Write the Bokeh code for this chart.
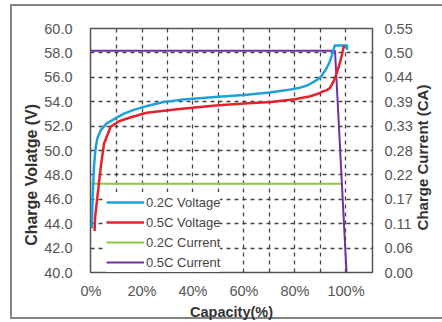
import math
from bokeh.plotting import figure
from bokeh.models import (Range1d, LinearAxis, FixedTicker, PrintfTickFormatter,
                          CustomJSTickFormatter, Legend, LegendItem)
from bokeh.embed import file_html
from bokeh.resources import INLINE

# ---------------- data ----------------
# 0.2C charge voltage (capacity %, V)
cap_02v = [0.3, 0.7, 1.2, 1.8, 2.5, 3.8, 6.0, 8.9, 12.7, 17, 22, 28, 35, 50, 60, 70, 77, 82, 85,
           88, 90, 92, 93.5, 94.8, 95.6, 100.4, 100.4]
volt_02 = [43.6, 46.5, 48.8, 50.2, 51.0, 51.65, 52.2, 52.55, 53.0, 53.35, 53.65, 53.95, 54.15, 54.4,
           54.55, 54.75, 54.95, 55.15, 55.35, 55.7, 56.0, 56.6, 57.2, 58.0, 58.6, 58.6, 58.25]
# 0.5C charge voltage
cap_05v = [1.4, 1.6, 2.5, 3.8, 5.1, 7.7, 11, 15.4, 21.8, 34.7, 50, 60, 70.5, 80, 86, 89, 91, 92.5,
           93.6, 95, 96.3, 97.2, 97.9, 98.5, 98.9, 99.2]
volt_05 = [43.4, 44.5, 46.2, 48.6, 50.55, 51.95, 52.4, 52.7, 53.1, 53.4, 53.7, 53.85, 53.97, 54.2,
           54.45, 54.65, 54.85, 54.95, 55.1, 55.6, 56.3, 56.9, 57.4, 57.9, 58.35, 58.6]
# 0.2C charge current (CA)
cap_02c = [0, 98.2]
curr_02 = [0.2, 0.2]
# 0.5C charge current (CA)
cap_05c = [0, 95.7, 100.2]
curr_05 = [0.5, 0.5, 0.0]

x_ticks = [0, 20, 40, 60, 80, 100]
x_grid = [10, 20, 30, 40, 50, 60, 70, 80, 90, 100]
v_ticks = [40, 42, 44, 46, 48, 50, 52, 54, 56, 58, 60]
v_grid = [42, 44, 46, 48, 50, 52, 54, 56, 58]
c_step = 0.055
c_tick_labels = ["0.00", "0.06", "0.11", "0.17", "0.22", "0.28", "0.33", "0.39", "0.44", "0.50", "0.55"]
series_names = ["0.2C Voltage", "0.5C Voltage", "0.2C Current", "0.5C Current"]
x_title = "Capacity(%)"
left_title = "Charge Volatge (V)"
right_title = "Charge Current (CA)"
left_title_at = 48.0     # voltage level at which the left title is centred
right_title_at = 43.45   # voltage level at which the right title starts (it reads upwards)

FONT = "Liberation Sans"
BORDER = "#858585"

p = figure(width=442, height=322, output_backend="svg", toolbar_location=None,
           x_range=Range1d(-0.2, 110.4), y_range=Range1d(40, 60),
           min_border_left=90, min_border_right=65, min_border_top=28, min_border_bottom=50)
g = "linear-gradient({c},{c})".format(c=BORDER)
p.styles = {"background": (g + " 10px 4px / 2px 315px no-repeat, "
                           + g + " 10px 4px / 440px 2px no-repeat, "
                           + g + " 10px 317px / 440px 2px no-repeat, #ffffff")}
p.background_fill_color = "white"
p.border_fill_color = None
p.outline_line_color = "#555555"
p.outline_line_width = 1.5

xax = p.xaxis[0]
yax = p.yaxis[0]

p.extra_y_ranges = {"cur": Range1d(0, 0.55)}
ax_r = LinearAxis(y_range_name="cur")
p.add_layout(ax_r, "right")


def plain(ax):
    ax.axis_line_color = None
    ax.major_tick_line_color = None
    ax.minor_tick_line_color = None
    ax.major_tick_out = 0
    ax.major_tick_in = 0
    ax.minor_tick_out = 0
    ax.minor_tick_in = 0


for ax in [xax, yax, ax_r]:
    plain(ax)
    ax.major_label_text_font = FONT
    ax.major_label_text_font_size = "14.5px"
    ax.major_label_text_color = "#555555"

xax.ticker = FixedTicker(ticks=x_ticks)
xax.formatter = PrintfTickFormatter(format="%d%%")
xax.major_label_standoff = 10
xax.axis_label = x_title
xax.axis_label_standoff = 2
xax.axis_label_text_font = FONT
xax.axis_label_text_font_size = "14.5px"
xax.axis_label_text_font_style = "bold"
xax.axis_label_text_color = "#333333"

yax.ticker = FixedTicker(ticks=v_ticks)
yax.formatter = PrintfTickFormatter(format="%.1f")
yax.major_label_standoff = 18

c_ticks = [round(c_step * i, 4) for i in range(len(c_tick_labels))]
ax_r.ticker = FixedTicker(ticks=c_ticks)
ax_r.formatter = CustomJSTickFormatter(args=dict(labels=c_tick_labels, step=c_step),
                                       code="return labels[Math.round(tick / step)];")
ax_r.major_label_standoff = 12

# axis titles drawn as single rotated labels of extra outer axes
ax_lt = LinearAxis(ticker=FixedTicker(ticks=[left_title_at]),
                   formatter=CustomJSTickFormatter(args=dict(t=left_title), code="return t;"))
ax_rt = LinearAxis(ticker=FixedTicker(ticks=[right_title_at]),
                   formatter=CustomJSTickFormatter(args=dict(t=right_title), code="return t;"))
for ax in [ax_lt, ax_rt]:
    plain(ax)
    ax.major_label_text_font = FONT
    ax.major_label_text_font_style = "bold"
    ax.major_label_text_color = "#333333"
ax_lt.major_label_orientation = "parallel"
ax_lt.major_label_standoff = 1
ax_lt.major_label_text_font_size = "16px"
ax_rt.major_label_orientation = math.pi / 2
ax_rt.major_label_standoff = 7
ax_rt.major_label_text_font_size = "15px"
p.add_layout(ax_lt, "left")
p.add_layout(ax_rt, "right")

p.xgrid.ticker = FixedTicker(ticks=x_grid)
p.ygrid.ticker = FixedTicker(ticks=v_grid)
for gr in [p.xgrid[0], p.ygrid[0]]:
    gr.grid_line_color = "#444444"
    gr.grid_line_width = 1.3
    gr.grid_line_dash = "4 4"

r_g = p.line(cap_02c, curr_02, y_range_name="cur", line_color="#8dc63f", line_width=2)
r_p = p.line(cap_05c, curr_05, y_range_name="cur", line_color="#7030a0", line_width=2)
r_b = p.line(cap_02v, volt_02, line_color="#1ea0dc", line_width=2.5, line_join="round")
r_r = p.line(cap_05v, volt_05, line_color="#e8202a", line_width=2.5, line_join="round")

legend = Legend(items=[LegendItem(label=series_names[0], renderers=[r_b]),
                       LegendItem(label=series_names[1], renderers=[r_r]),
                       LegendItem(label=series_names[2], renderers=[r_g]),
                       LegendItem(label=series_names[3], renderers=[r_p])],
                location=(16, 0), margin=0, padding=4, spacing=0,
                glyph_width=38, glyph_height=20, label_height=20, label_standoff=2,
                label_text_font=FONT, label_text_font_size="13px", label_text_color="#444444",
                border_line_color=None, background_fill_color="white", background_fill_alpha=1)
p.add_layout(legend)

open("out.html", "w").write(file_html(p, INLINE))
